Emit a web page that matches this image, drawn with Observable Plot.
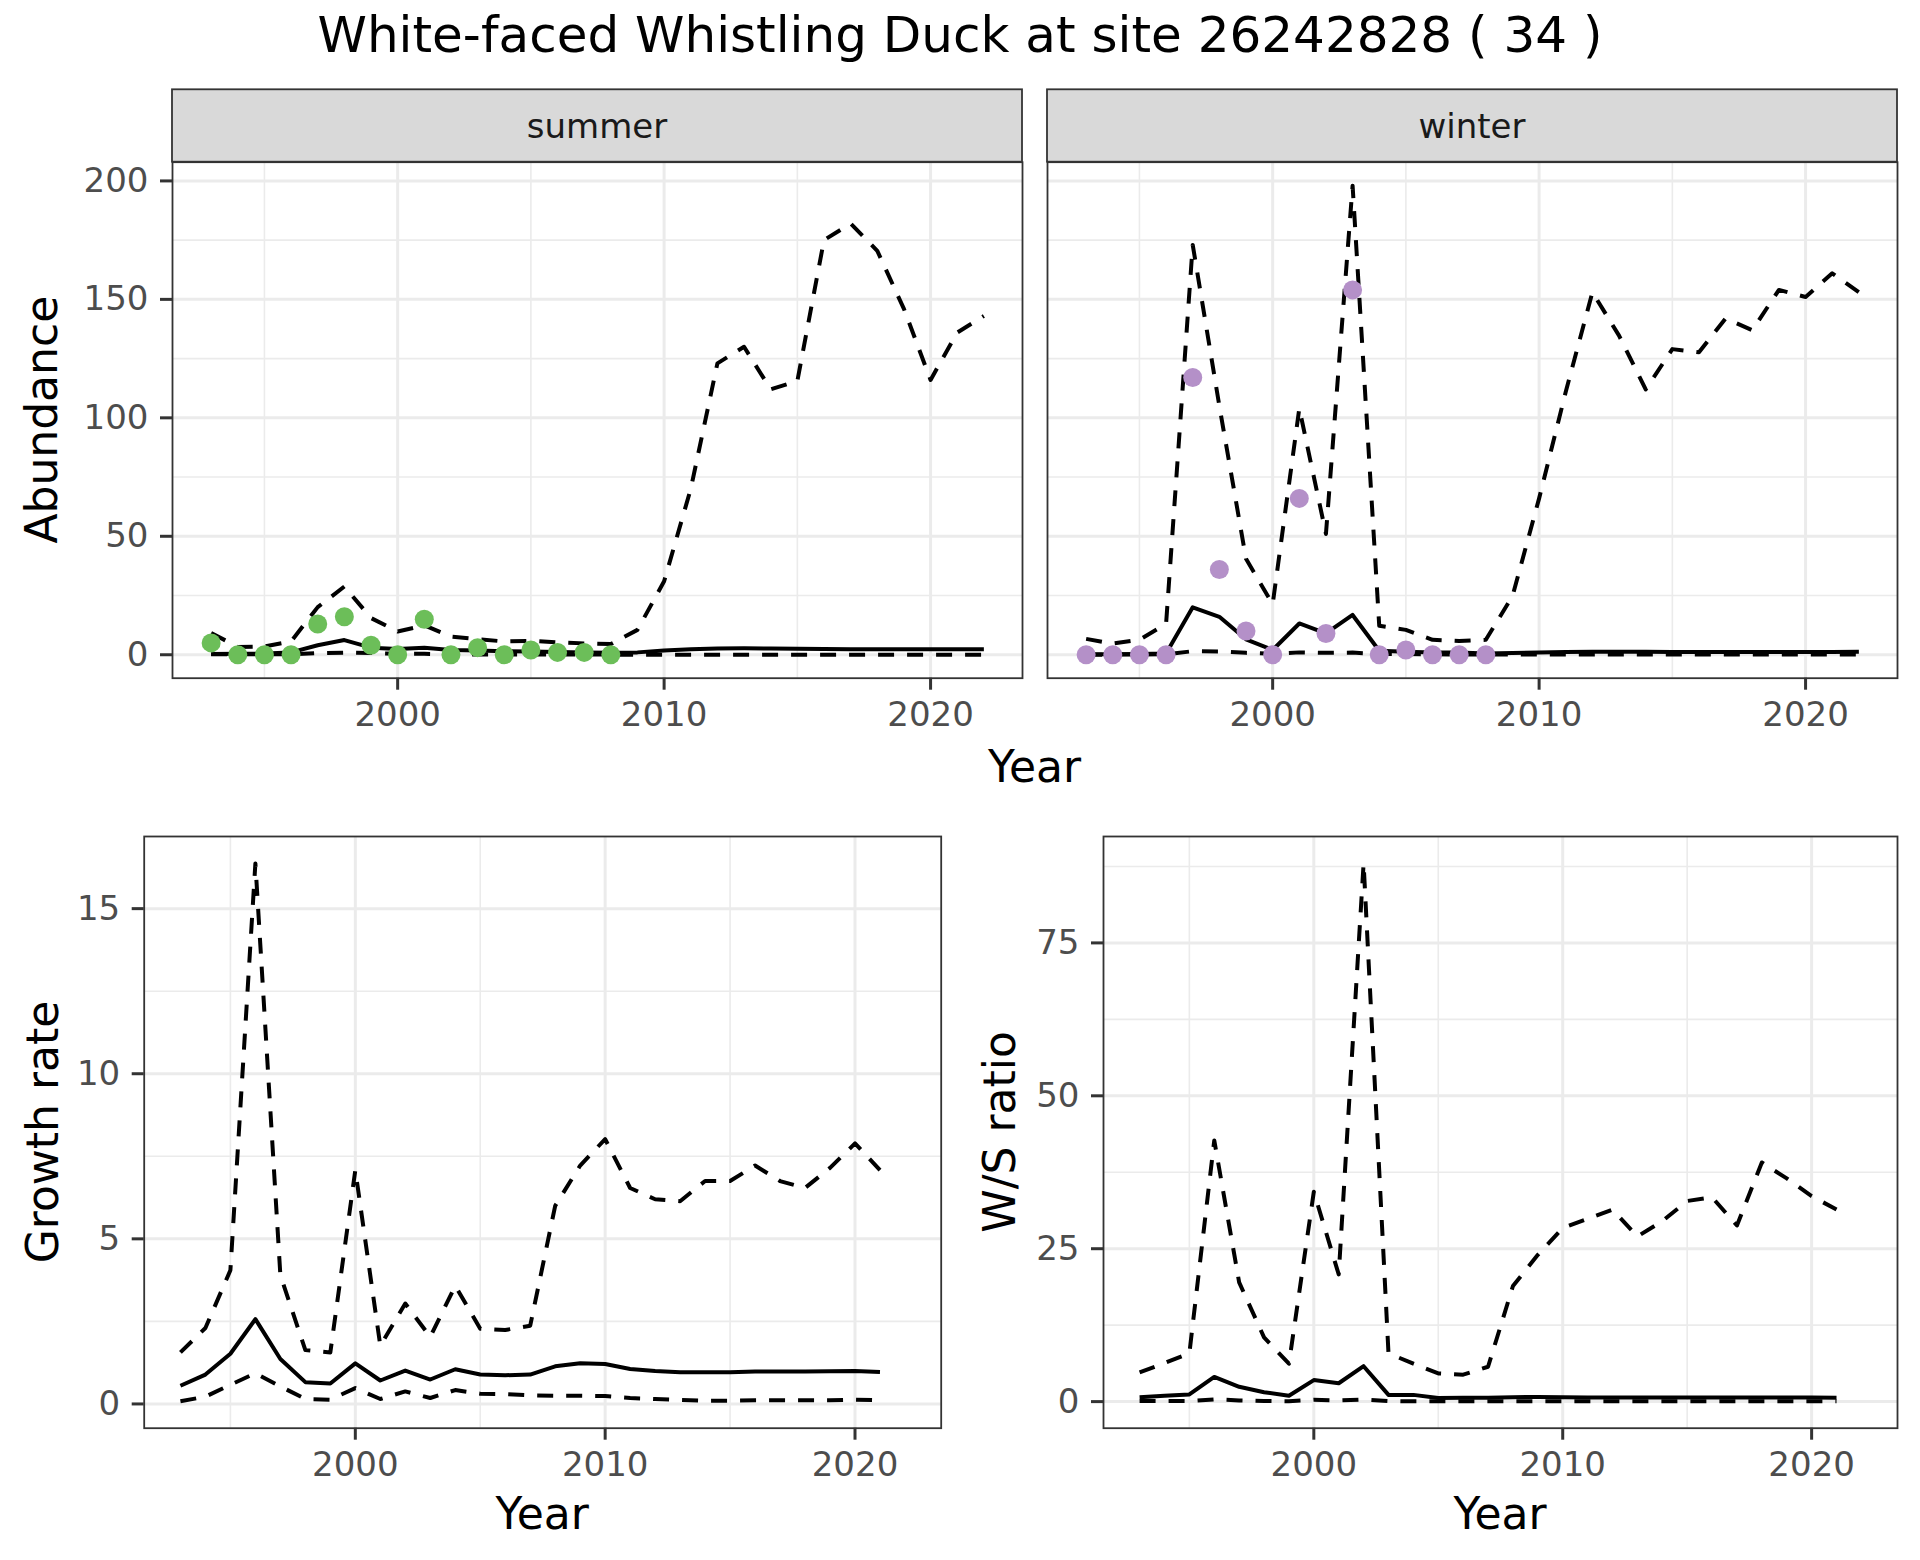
<!DOCTYPE html>
<html>
<head>
<meta charset="utf-8">
<script src="https://cdn.jsdelivr.net/npm/d3@7"></script>
<script src="https://cdn.jsdelivr.net/npm/@observablehq/plot@0.6"></script>
<style>
  body { margin: 0; background: #ffffff; }
  #root { position: relative; width: 1920px; height: 1560px; background: #ffffff; font-family: "DejaVu Sans", sans-serif; overflow: hidden; }
  .panel { position: absolute; }
</style>
</head>
<body>
<div id="root"></div>
<script>
// ---------------- data ----------------
const titleText = "White-faced Whistling Duck at site 26242828 ( 34 )";
const seasons = ["summer", "winter"];

const years = [1993,1994,1995,1996,1997,1998,1999,2000,2001,2002,2003,2004,2005,2006,2007,
               2008,2009,2010,2011,2012,2013,2014,2015,2016,2017,2018,2019,2020,2021,2022];

const summerMean  = [0.3,0.4,0.5,1.0,4.0,6.2,3.0,2.4,3.0,2.0,1.8,1.5,1.4,1.2,1.0,
                     0.8,1.0,1.8,2.3,2.6,2.7,2.6,2.5,2.4,2.3,2.3,2.3,2.3,2.3,2.3];
const summerLower = [0.2,0.2,0.2,0.2,0.7,0.9,0.7,0.4,0.4,0.1,0.1,0.1,0.1,0.1,0.1,
                     0.05,0.05,0.05,0.05,0.05,0.05,0.05,0.05,0.05,0.05,0.05,0.05,0.05,0.05,0.05];
const summerUpper = [9.2,3.3,3.5,5.6,20.1,28.8,15.5,9.8,12.4,7.7,6.6,5.6,5.9,5.2,4.8,
                     4.5,10.5,31,70,123,130,112,115.5,175,182,170.5,146,116,136,143];

const winterMean  = [0.2,0.2,0.3,0.5,20,16,6.5,2.0,13.2,9.0,16.8,1.7,1.3,1.0,0.9,
                     0.5,0.7,1.0,1.2,1.3,1.3,1.3,1.2,1.2,1.2,1.2,1.2,1.2,1.2,1.3];
const winterLower = [0.05,0.05,0.1,0.2,1.5,1.4,0.8,0.4,1.0,0.8,0.9,0.3,0.3,0.2,0.1,
                     0.1,0.1,0.1,0.1,0.1,0.1,0.1,0.1,0.1,0.1,0.1,0.1,0.1,0.1,0.1];
const winterUpper = [6.7,4.7,6.3,13,173,105,40.5,21.3,104,51,198,12.2,10.5,6.3,5.8,
                     6.3,24.7,66,111,153,134.7,112,129,127.7,142,137,154,151,161,153];

const obsYears  = [1993,1994,1995,1996,1997,1998,1999,2000,2001,2002,2003,2004,2005,2006,2007,2008];
const summerObs = [5,0,0,0,13,16,4,0,15,0,3,0,2,1,1,0];
const winterObs = [0,0,0,0,117,36,10,0,66,9,154,0,2,0,0,0];

const rateYears = [1993,1994,1995,1996,1997,1998,1999,2000,2001,2002,2003,2004,2005,2006,2007,
                   2008,2009,2010,2011,2012,2013,2014,2015,2016,2017,2018,2019,2020,2021];
const growthMean  = [0.55,0.89,1.52,2.57,1.36,0.66,0.62,1.23,0.71,1.01,0.74,1.05,0.89,0.87,0.89,
                     1.14,1.23,1.21,1.06,1.0,0.96,0.96,0.96,0.98,0.98,0.98,0.99,1.0,0.97];
const growthLower = [0.08,0.22,0.58,0.93,0.53,0.15,0.13,0.48,0.15,0.38,0.18,0.42,0.31,0.3,0.26,
                     0.25,0.25,0.24,0.18,0.15,0.12,0.1,0.1,0.11,0.11,0.11,0.11,0.13,0.11];
const growthUpper = [1.56,2.3,4.05,16.37,3.9,1.63,1.56,7.08,1.76,3.04,2.03,3.58,2.28,2.24,2.37,
                     6.0,7.22,8.02,6.54,6.2,6.14,6.75,6.75,7.22,6.75,6.54,7.15,7.89,7.08];

const ratioMean  = [0.73,0.95,1.17,4.03,2.42,1.54,0.95,3.52,3.0,5.79,1.1,1.1,0.59,0.62,0.65,
                    0.73,0.75,0.7,0.68,0.68,0.67,0.67,0.66,0.66,0.66,0.66,0.66,0.66,0.65];
const ratioLower = [0.1,0.1,0.1,0.37,0.2,0.1,0.05,0.3,0.2,0.35,0.1,0.05,0.05,0.05,0.05,
                    0.05,0.05,0.05,0.05,0.05,0.05,0.05,0.05,0.05,0.05,0.05,0.05,0.05,0.05];
const ratioUpper = [4.77,6.3,7.9,42.7,19.5,10.5,6.2,34.3,20.8,88,7.9,6.2,4.6,4.4,5.7,
                    18.9,24,28.4,29.9,31.4,27,29.5,32.8,33.4,28.8,39.1,36.5,33.6,31.4];

const xMajor = [2000, 2010, 2020];
const xMinor = [1995, 2005, 2015];
const abundanceMajor = [0, 50, 100, 150, 200];
const abundanceMinor = [25, 75, 125, 175];
const growthMajor = [0, 5, 10, 15];
const growthMinor = [2.5, 7.5, 12.5];
const ratioMajor = [0, 25, 50, 75];
const ratioMinor = [12.5, 37.5, 62.5, 87.5];

const summerColor = "#6CBE59";
const winterColor = "#B490C8";

// ---------------- helpers ----------------
const rows = (ys, m, lo, up) => ys.map((year, i) => ({year, mean: m[i], lower: lo[i], upper: up[i]}));
const obsRows = (ys, v) => ys.map((year, i) => ({year, count: v[i]}));
const expand = ([a, b]) => { const d = (b - a) * 0.05; return [a - d, b + d]; };

const xDomain = expand(d3.extent(years));
const topDomain = expand(d3.extent([].concat(summerMean, summerLower, summerUpper, winterMean, winterLower, winterUpper, summerObs, winterObs)));
const growthDomain = expand(d3.extent([].concat(growthMean, growthLower, growthUpper)));
const ratioDomain = expand(d3.extent([].concat(ratioMean, ratioLower, ratioUpper)));

const root = document.getElementById("root");
const GRID = "#EBEBEB", BORDER = "#333333", TICKTXT = "#4D4D4D";
const LW = 4, DASH = "16,13";

function panel({left, top, width, height, ml, mr, mt, mb, yDomain, yMajor, yMinor, data, obs, color, showY}) {
  const marks = [
    Plot.gridY(yMinor, {stroke: GRID, strokeOpacity: 1, strokeWidth: 1.6}),
    Plot.gridX(xMinor, {stroke: GRID, strokeOpacity: 1, strokeWidth: 1.6}),
    Plot.gridY(yMajor, {stroke: GRID, strokeOpacity: 1, strokeWidth: 3}),
    Plot.gridX(xMajor, {stroke: GRID, strokeOpacity: 1, strokeWidth: 3}),
    Plot.line(data, {x: "year", y: "lower", stroke: "black", strokeWidth: LW, strokeDasharray: DASH, strokeLinecap: "butt"}),
    Plot.line(data, {x: "year", y: "upper", stroke: "black", strokeWidth: LW, strokeDasharray: DASH, strokeLinecap: "butt"}),
    Plot.line(data, {x: "year", y: "mean", stroke: "black", strokeWidth: LW, strokeLinecap: "butt"}),
  ];
  if (obs) marks.push(Plot.dot(obs, {x: "year", y: "count", r: 9.5, fill: color, stroke: "none"}));
  marks.push(Plot.frame({stroke: BORDER, strokeWidth: 1.8}));
  marks.push(Plot.axisX(xMajor, {tickSize: 12, tickPadding: 12, stroke: BORDER, strokeWidth: 3, fill: TICKTXT,
                                 fontSize: 34, tickFormat: d => String(d), label: null}));
  if (showY) marks.push(Plot.axisY(yMajor, {anchor: "left", tickSize: 12, tickPadding: 12, stroke: BORDER, strokeWidth: 3,
                                            fill: TICKTXT, fontSize: 34, label: null}));
  const svg = Plot.plot({
    width, height, marginLeft: ml, marginRight: mr, marginTop: mt, marginBottom: mb,
    x: {domain: xDomain},
    y: showY ? {domain: yDomain} : {domain: yDomain, axis: null},
    style: {fontFamily: "DejaVu Sans", fontSize: "34px", background: "transparent", overflow: "visible"},
    marks
  });
  const div = document.createElement("div");
  div.className = "panel";
  div.style.left = left + "px";
  div.style.top = top + "px";
  div.appendChild(svg);
  root.appendChild(div);
}

// top row: summer / winter facets
panel({left: 0, top: 0, width: 1030, height: 740, ml: 172, mr: 8, mt: 161.7, mb: 62.3,
       yDomain: topDomain, yMajor: abundanceMajor, yMinor: abundanceMinor,
       data: rows(years, summerMean, summerLower, summerUpper), obs: obsRows(obsYears, summerObs),
       color: summerColor, showY: true});
panel({left: 1040, top: 0, width: 865, height: 740, ml: 7, mr: 8, mt: 161.7, mb: 62.3,
       yDomain: topDomain, yMajor: abundanceMajor, yMinor: abundanceMinor,
       data: rows(years, winterMean, winterLower, winterUpper), obs: obsRows(obsYears, winterObs),
       color: winterColor, showY: false});
// bottom row
panel({left: 0, top: 780, width: 950, height: 720, ml: 143.7, mr: 9.3, mt: 56, mb: 72.3,
       yDomain: growthDomain, yMajor: growthMajor, yMinor: growthMinor,
       data: rows(rateYears, growthMean, growthLower, growthUpper), showY: true});
panel({left: 960, top: 780, width: 945, height: 720, ml: 143, mr: 8, mt: 56, mb: 72.3,
       yDomain: ratioDomain, yMajor: ratioMajor, yMinor: ratioMinor,
       data: rows(rateYears, ratioMean, ratioLower, ratioUpper), showY: true});

// ---------------- text & strips overlay ----------------
const ov = d3.create("svg").attr("width", 1920).attr("height", 1560)
  .style("position", "absolute").style("left", "0px").style("top", "0px")
  .style("font-family", "DejaVu Sans");

const strips = [{x: 172, w: 850, label: seasons[0]}, {x: 1047, w: 850, label: seasons[1]}];
for (const s of strips) {
  ov.append("rect").attr("x", s.x).attr("y", 89.3).attr("width", s.w).attr("height", 72.4)
    .attr("fill", "#D9D9D9").attr("stroke", BORDER).attr("stroke-width", 1.8);
  ov.append("text").attr("x", s.x + s.w / 2).attr("y", 138.3).attr("text-anchor", "middle")
    .attr("font-size", 34).attr("fill", "#1A1A1A").text(s.label);
}
ov.append("text").attr("x", 960).attr("y", 51.7).attr("text-anchor", "middle")
  .attr("font-size", 50).attr("fill", "#000").text(titleText);

const hTitles = [{x: 1034.5, y: 781.7, t: "Year"}, {x: 542.2, y: 1529.3, t: "Year"}, {x: 1500, y: 1529.3, t: "Year"}];
for (const h of hTitles) {
  ov.append("text").attr("x", h.x).attr("y", h.y).attr("text-anchor", "middle")
    .attr("font-size", 44).attr("fill", "#000").text(h.t);
}
const vTitles = [{x: 56.7, y: 419.7, t: "Abundance"}, {x: 58, y: 1132, t: "Growth rate"}, {x: 1015, y: 1132, t: "W/S ratio"}];
for (const v of vTitles) {
  ov.append("text").attr("transform", `translate(${v.x},${v.y}) rotate(-90)`).attr("text-anchor", "middle")
    .attr("font-size", 44).attr("fill", "#000").text(v.t);
}
root.appendChild(ov.node());
</script>
</body>
</html>
